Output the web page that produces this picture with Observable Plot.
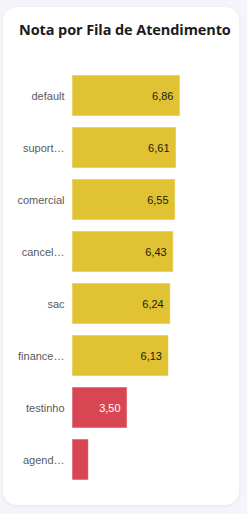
<!DOCTYPE html>
<html>
<head>
<meta charset="utf-8">
<script src="https://cdn.jsdelivr.net/npm/d3@7"></script>
<script src="https://cdn.jsdelivr.net/npm/@observablehq/plot@0.6"></script>
<style>
  html, body { margin: 0; padding: 0; background: #f4f5fa; width: 247px; height: 514px; overflow: hidden; }
  #card { position: absolute; left: 3px; top: 7px; width: 236px; height: 498px; background: #fff; border-radius: 14px; box-shadow: 0 1px 4px rgba(0,0,0,0.06); }
  #title { position: absolute; left: 19px; top: 20px; font-family: "Open Sans", sans-serif; font-weight: 700; font-size: 14.5px; color: #1c1c1c; white-space: nowrap; letter-spacing: -0.1px; }
  #chart { position: absolute; left: 0; top: 50px; }
</style>
</head>
<body>
<div id="card"></div>
<div id="title">Nota por Fila de Atendimento</div>
<div id="chart"></div>
<script>
const categories = ["default", "suport…", "comercial", "cancel…", "sac", "finance…", "testinho", "agend…"];
const values = [6.86, 6.61, 6.55, 6.43, 6.24, 6.13, 3.50, 1.04];
const threshold = [5];

const data = categories.map((c, i) => ({ fila: c, nota: values[i] }));
const fmt = v => v.toFixed(2).replace(".", ",");

const chart = Plot.plot({
  width: 247,
  height: 461,
  marginLeft: 72,
  marginRight: 17.6,
  marginTop: 14,
  marginBottom: 20,
  style: { fontFamily: "'Liberation Sans', Arial, sans-serif", fontSize: "11px", background: "transparent", overflow: "visible" },
  x: { domain: [0, 10], axis: null },
  y: { domain: categories, padding: 0.21, label: null, tickSize: 0, tickPadding: 8 },
  color: { type: "threshold", domain: threshold, range: ["#d94653", "#e0c232"] },
  marks: [
    Plot.barX(data, { x: "nota", y: "fila", fill: "nota", stroke: "#ffffff", strokeOpacity: 0.55, strokeWidth: 1, inset: 0 }),
    Plot.text(data.filter(d => d.nota >= 2), {
      x: "nota", y: "fila", text: d => fmt(d.nota), textAnchor: "end", dx: -7,
      fill: d => d.nota < threshold[0] ? "#ffffff" : "#1a1a1a", fontSize: 11
    }),
    Plot.axisY({ tickSize: 0, tickPadding: 8, label: null, fill: "#5a5a5a", fontSize: 11 })
  ]
});
document.getElementById("chart").appendChild(chart);
</script>
</body>
</html>
